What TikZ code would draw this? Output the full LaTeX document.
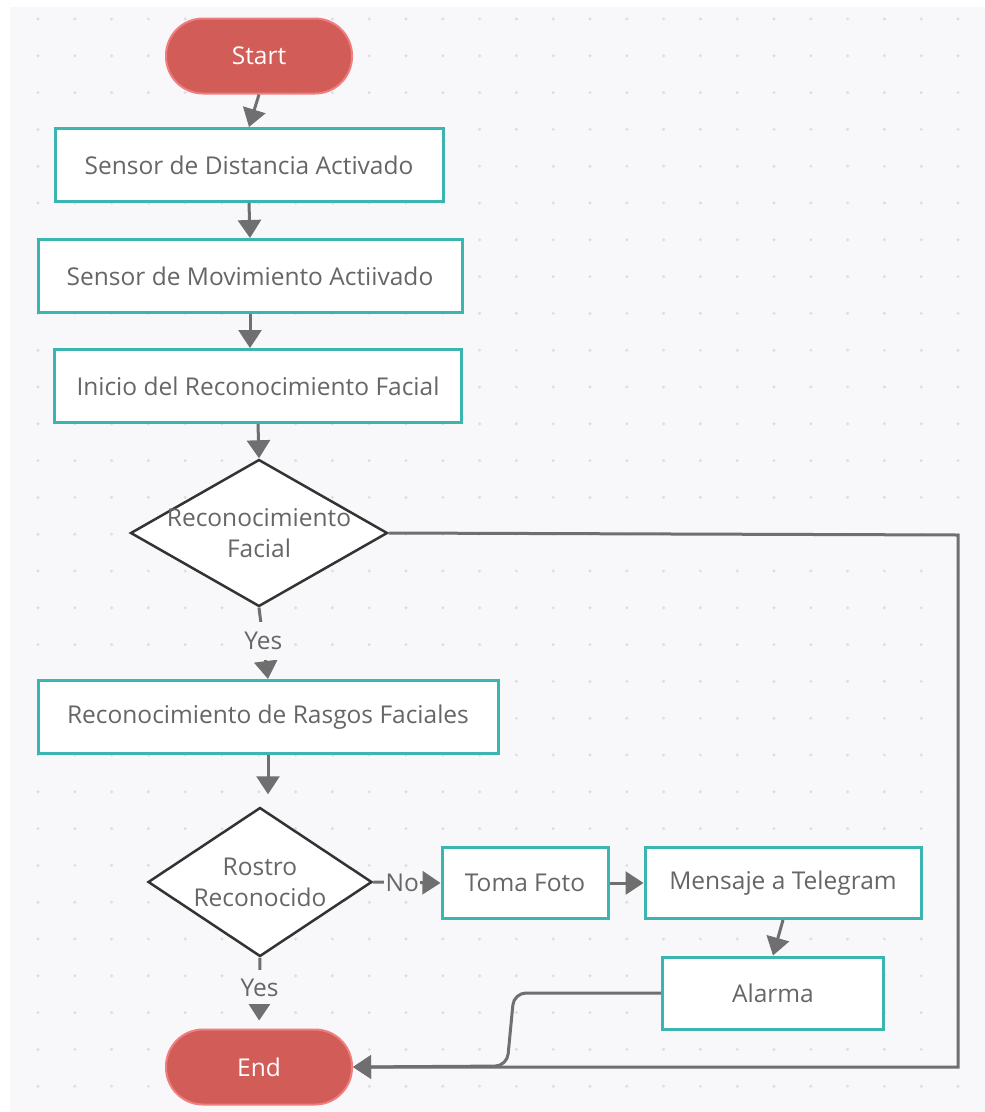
\documentclass[tikz,border=0pt]{standalone}
\usepackage{fontspec}
\setmainfont{Open Sans}
\usetikzlibrary{shapes.geometric,arrows.meta}

\definecolor{panelbg}{HTML}{F8F8FB}
\definecolor{dotgrey}{HTML}{DCDCE2}
\definecolor{teal}{HTML}{3AB5B0}
\definecolor{termred}{HTML}{D25D58}
\definecolor{termrim}{HTML}{F07E7E}
\definecolor{linegrey}{HTML}{6F6F6F}
\definecolor{txtgrey}{HTML}{666666}

\tikzset{
  every node/.style={font=\fontsize{24.5}{31}\selectfont, text=txtgrey},
  term/.style={rectangle, rounded corners=37pt, fill=termred, draw=termrim,
    line width=2pt, minimum width=186pt, minimum height=75pt, text=white},
  proc/.style={rectangle, fill=white, draw=teal, line width=3pt,
    minimum height=73pt, inner sep=0pt},
  dec/.style={diamond, fill=white, draw=black!80, line width=2.5pt, inner sep=0pt},
  flow/.style={draw=linegrey, line width=3pt,
    -{Triangle[length=18pt,width=23pt,fill=linegrey]}},
  answer/.style={fill=panelbg, inner sep=0pt},
}

\begin{document}
\begin{tikzpicture}[x=1pt,y=-1pt]
  % page and dotted canvas
  \fill[white] (0,0) rectangle (985,1112);
  \fill[panelbg] (10,7) rectangle (985,1112);
  \foreach \i in {0,...,25}
    \foreach \j in {0,...,29}
      \fill[dotgrey] (38+36.8*\i,19+36.8*\j) circle (1.6);

  % main column
  \node[term] (start) at (259,56) {Start};
  \node[proc, minimum width=388pt] (dist) at (249,165) {Sensor de Distancia Activado};
  \node[proc, minimum width=424pt] (mov) at (250,276) {Sensor de Movimiento Actiivado};
  \node[proc, minimum width=407pt] (inicio) at (258,386) {Inicio del Reconocimiento Facial};
  \node[dec, minimum width=257pt, minimum height=147pt,
    label={[align=center]center:Reconocimiento\\Facial}] (facial) at (259,533) {};
  \node[proc, minimum width=460pt] (rasgos) at (268,717) {Reconocimiento de Rasgos Faciales};
  \node[dec, minimum width=224pt, minimum height=149pt,
    label={[align=center]center:Rostro\\Reconocido}] (rostro) at (260,882) {};
  \node[term] (end) at (259,1067) {End};

  % alert branch
  \node[proc, minimum width=166pt, minimum height=71pt] (foto) at (525,883) {Toma Foto};
  \node[proc, minimum width=276pt, minimum height=71pt] (tele) at (783,883) {Mensaje a Telegram};
  \node[proc, minimum width=221pt, minimum height=72pt] (alarma) at (773,993) {Alarma};

  \coordinate (rgt) at (958,535);
  \coordinate (bend) at (514,993);

  % connectors
  \draw[flow] (start.south) -- (dist.north);
  \draw[flow] (dist.south) -- (mov.north);
  \draw[flow] (mov.south) -- (mov.south |- inicio.north);
  \draw[flow] (inicio.south) -- (facial.north);
  \draw[flow] (facial.south) -- node[answer, pos=0.47, minimum height=38pt] {Yes} (rasgos.north);
  \draw[flow] (facial.east) -- (rgt) |- (end.east);
  \draw[flow, shorten >=12pt] (rasgos.south) -- (rasgos.south |- rostro.north);
  \draw[flow] (rostro.east) -- node[answer, pos=0.43, minimum width=36pt] {No} (foto.west);
  \draw[flow] (foto.east) -- (tele.west);
  \draw[flow] (tele.south) -- (alarma.north);
  \draw[flow, rounded corners=12pt] (alarma.west) -- (bend) -- (507,1066) -- (end.east);
  \draw[flow, shorten >=8pt] (rostro.south) -- node[answer, pos=0.42, minimum height=34pt] {Yes} (end.north);
\end{tikzpicture}
\end{document}
